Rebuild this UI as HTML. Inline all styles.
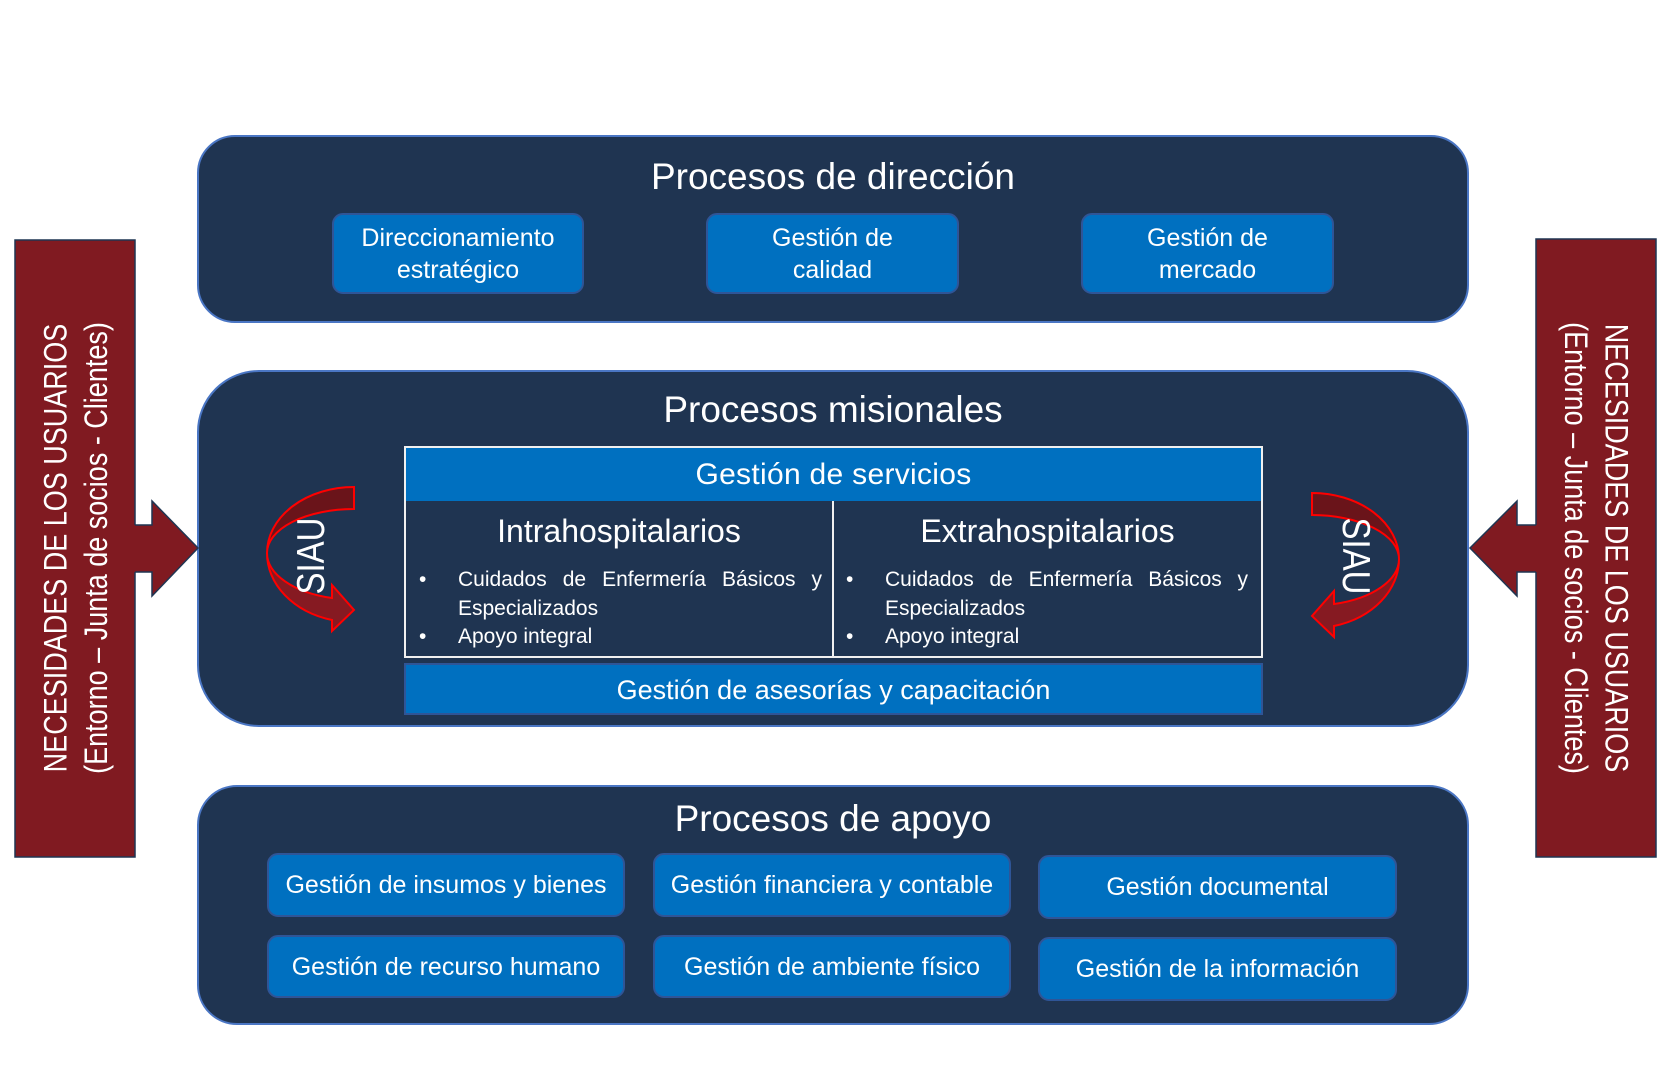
<!DOCTYPE html>
<html>
<head>
<meta charset="utf-8">
<style>
  html,body{margin:0;padding:0;background:#fff;}
  body{width:1670px;height:1080px;position:relative;overflow:hidden;font-family:"Liberation Sans",Arial,sans-serif;color:#fff;}
  .panel{position:absolute;background:#1f3451;border:2px solid #4a76c4;box-sizing:border-box;}
  .title{position:absolute;left:197px;width:1272px;text-align:center;font-size:37px;line-height:37px;white-space:nowrap;}
  .b{position:absolute;background:#0070c0;border:2px solid #2f5597;box-sizing:border-box;border-radius:11px;display:flex;align-items:center;justify-content:center;text-align:center;font-size:25px;line-height:32px;white-space:nowrap;}
  .abs{position:absolute;}
  .bul{position:absolute;font-size:21px;line-height:28.5px;}
  .txt{position:absolute;font-size:21px;line-height:28.5px;text-align:justify;}
</style>
</head>
<body>

<!-- Panels -->
<div class="panel" style="left:197px;top:135px;width:1272px;height:188px;border-radius:38px;"></div>
<div class="panel" style="left:197px;top:370px;width:1272px;height:357px;border-radius:62px;"></div>
<div class="panel" style="left:197px;top:785px;width:1272px;height:240px;border-radius:40px;"></div>

<!-- Titles -->
<div class="title" style="top:158px;">Procesos de dirección</div>
<div class="title" style="top:391px;">Procesos misionales</div>
<div class="title" style="top:800px;">Procesos de apoyo</div>

<!-- Dirección boxes -->
<div class="b" style="left:332px;top:213px;width:252px;height:81px;">Direccionamiento<br>estratégico</div>
<div class="b" style="left:706px;top:213px;width:253px;height:81px;">Gestión de<br>calidad</div>
<div class="b" style="left:1081px;top:213px;width:253px;height:81px;">Gestión de<br>mercado</div>

<!-- Table -->
<div class="abs" style="left:404px;top:446px;width:859px;height:212px;border:2px solid #f0f0f0;box-sizing:border-box;background:#1f3451;"></div>
<div class="abs" style="left:406px;top:448px;width:855px;height:53px;background:#0070c0;display:flex;align-items:center;justify-content:center;font-size:30px;letter-spacing:0.3px;white-space:nowrap;">Gestión de servicios</div>
<div class="abs" style="left:832px;top:501px;width:2px;height:156px;background:#f0f0f0;"></div>

<div class="abs" style="left:406px;top:515px;width:426px;text-align:center;font-size:32px;line-height:32px;white-space:nowrap;">Intrahospitalarios</div>
<div class="abs" style="left:834px;top:515px;width:427px;text-align:center;font-size:32px;line-height:32px;white-space:nowrap;">Extrahospitalarios</div>

<div class="bul" style="left:419px;top:566px;">•</div>
<div class="txt" style="left:458px;top:566px;width:364px;">Cuidados de Enfermería Básicos y Especializados</div>
<div class="bul" style="left:419px;top:623px;">•</div>
<div class="txt" style="left:458px;top:623px;width:364px;white-space:nowrap;">Apoyo integral</div>

<div class="bul" style="left:846px;top:566px;">•</div>
<div class="txt" style="left:885px;top:566px;width:363px;">Cuidados de Enfermería Básicos y Especializados</div>
<div class="bul" style="left:846px;top:623px;">•</div>
<div class="txt" style="left:885px;top:623px;width:363px;white-space:nowrap;">Apoyo integral</div>

<!-- Asesorías bar -->
<div class="abs" style="left:404px;top:663px;width:859px;height:52px;background:#0070c0;border:2px solid #2f5597;box-sizing:border-box;display:flex;align-items:center;justify-content:center;font-size:27px;white-space:nowrap;padding-top:2px;">Gestión de asesorías y capacitación</div>

<!-- Apoyo boxes -->
<div class="b" style="left:267px;top:853px;width:358px;height:64px;">Gestión de insumos y bienes</div>
<div class="b" style="left:653px;top:853px;width:358px;height:64px;">Gestión financiera y contable</div>
<div class="b" style="left:1038px;top:855px;width:359px;height:64px;">Gestión documental</div>
<div class="b" style="left:267px;top:935px;width:358px;height:63px;">Gestión de recurso humano</div>
<div class="b" style="left:653px;top:935px;width:358px;height:63px;">Gestión de ambiente físico</div>
<div class="b" style="left:1038px;top:937px;width:359px;height:64px;">Gestión de la información</div>

<!-- Shapes -->
<svg class="abs" style="left:0;top:0;" width="1670" height="1080" viewBox="0 0 1670 1080">
  <!-- Left red box + arrow -->
  <rect x="15" y="240" width="120" height="617" fill="#801a21" stroke="#1f3552" stroke-width="1.5"/>
  <path d="M133,525 L152,525 L152,501 L198,548 L152,596 L152,572 L133,572 Z" fill="#801a21"/>
  <path d="M135,525 L152,525 L152,501 L198,548 L152,596 L152,572 L135,572" fill="none" stroke="#1f3552" stroke-width="1.5"/>

  <!-- Right red box + arrow -->
  <rect x="1536" y="239" width="120" height="618" fill="#801a21" stroke="#1f3552" stroke-width="1.5"/>
  <path d="M1538,525 L1517,525 L1517,501 L1470,548 L1517,596 L1517,572 L1538,572 Z" fill="#801a21"/>
  <path d="M1536,525 L1517,525 L1517,501 L1470,548 L1517,596 L1517,572 L1536,572" fill="none" stroke="#1f3552" stroke-width="1.5"/>

  <!-- Left SIAU curved arrow -->
  <g stroke="#ff0000" stroke-width="2" stroke-linejoin="miter">
    <path d="M354,487 A87,66 0 0 0 267,553 A87,44 0 0 1 354,509 Z" fill="#6a141a"/>
    <path d="M267,553 A87,69 0 0 0 332,620 L332,631 L354,610 L332,585 L332,598 A87,46.5 0 0 1 267,553 Z" fill="#861a22"/>
  </g>

  <!-- Right SIAU curved arrow (mirrored) -->
  <g transform="translate(1666,6) scale(-1,1)" stroke="#ff0000" stroke-width="2" stroke-linejoin="miter">
    <path d="M354,487 A87,66 0 0 0 267,553 A87,44 0 0 1 354,509 Z" fill="#6a141a"/>
    <path d="M267,553 A87,69 0 0 0 332,620 L332,631 L354,610 L332,585 L332,598 A87,46.5 0 0 1 267,553 Z" fill="#861a22"/>
  </g>
</svg>

<!-- SIAU labels -->
<div class="abs" style="left:211px;top:539px;width:200px;height:34px;text-align:center;font-size:33px;line-height:34px;transform:rotate(-90deg) scaleY(1.18);white-space:nowrap;">SIAU</div>
<div class="abs" style="left:1256px;top:539px;width:200px;height:34px;text-align:center;font-size:33px;line-height:34px;transform:rotate(90deg) scaleY(1.18);white-space:nowrap;">SIAU</div>

<!-- Red box labels -->
<div class="abs" style="left:-234px;top:514px;width:620px;height:68px;text-align:center;font-size:27px;line-height:34px;transform:rotate(-90deg) scaleY(1.19);white-space:nowrap;">NECESIDADES DE LOS USUARIOS<br>(Entorno – Junta de socios - Clientes)</div>
<div class="abs" style="left:1286px;top:514px;width:620px;height:68px;text-align:center;font-size:27px;line-height:34px;transform:rotate(90deg) scaleY(1.19);white-space:nowrap;">NECESIDADES DE LOS USUARIOS<br>(Entorno – Junta de socios - Clientes)</div>

</body>
</html>
